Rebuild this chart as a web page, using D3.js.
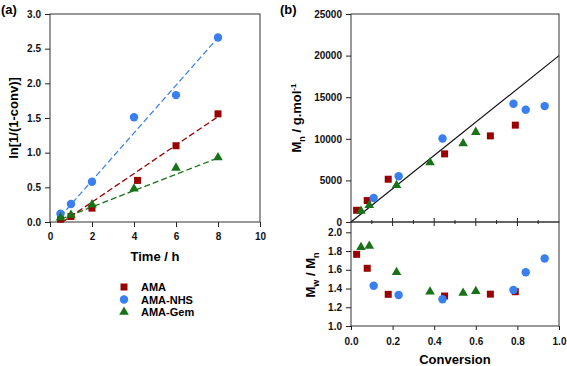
<!DOCTYPE html>
<html>
<head>
<meta charset="utf-8">
<script src="https://cdn.jsdelivr.net/npm/d3@7"></script>
<style>
  body { margin: 0; background: #fff; }
  svg text { font-family: "Liberation Sans", Arial, sans-serif; font-weight: bold; }
</style>
</head>
<body>
<svg id="chart" width="567" height="366"></svg>
<script>
const svg = d3.select("#chart");

// panel (a) kinetics
const timeAMA = [0.5, 1, 2, 4.17, 6, 8];
const lnAMA = [0.04, 0.08, 0.2, 0.6, 1.1, 1.56];
const timeNHS = [0.5, 1, 2, 4, 6, 8];
const lnNHS = [0.12, 0.26, 0.58, 1.51, 1.83, 2.66];
const timeGem = [0.5, 1, 2, 4, 6, 8];
const lnGem = [0.06, 0.1, 0.25, 0.48, 0.78, 0.93];

// fitted lines, [x, y] end points
const fitAMA = [[0.6, 0.0], [8.05, 1.53]];
const fitNHS = [[0.5, 0.08], [8.0, 2.66]];
const fitGem = [[0.5, 0.04], [8.05, 0.93]];

// panel (b) Mn and dispersity vs conversion
const convAMA = [0.027, 0.078, 0.179, 0.45, 0.67, 0.79];
const mnAMA = [1410, 2580, 5140, 8190, 10350, 11640];
const dispAMA = [1.765, 1.616, 1.338, 1.32, 1.34, 1.366];

const convNHS = [0.109, 0.229, 0.44, 0.781, 0.84, 0.931];
const mnNHS = [2890, 5500, 10040, 14210, 13490, 13930];
const dispNHS = [1.43, 1.33, 1.285, 1.384, 1.573, 1.72];

const convGem = [0.048, 0.088, 0.219, 0.38, 0.539, 0.6];
const mnGem = [1325, 2010, 4420, 7150, 9440, 10800];
const dispGem = [1.84, 1.854, 1.573, 1.365, 1.352, 1.37];

const theoryLine = [[0, 0], [1, 20000]];

const seriesNames = ["AMA", "AMA-NHS", "AMA-Gem"];
const colors = { "AMA": "#990000", "AMA-NHS": "#3a7ff0", "AMA-Gem": "#187318" };
const shapes = { "AMA": d3.symbolSquare, "AMA-NHS": d3.symbolCircle, "AMA-Gem": d3.symbolTriangle };
const sizes = { "AMA": 49, "AMA-NHS": 56, "AMA-Gem": 40 };

const xA = d3.scaleLinear([0, 10], [50, 260]);
const yA = d3.scaleLinear([0, 3], [222, 14]);
const xB = d3.scaleLinear([0, 1], [351, 559]);
const yB = d3.scaleLinear([0, 25000], [222, 14]);
const yC = d3.scaleLinear([1, 2.11], [326, 222]);

function zip(xs, ys) { return xs.map((x, i) => [x, ys[i]]); }

function drawAxis(g, axis, minorAxis) {
  const a = svg.append("g").attr("transform", g);
  a.call(minorAxis);
  a.call(axis);
  a.selectAll(".domain").remove();
  a.selectAll("line").attr("stroke", "#222").attr("stroke-width", 1);
  a.selectAll("text").attr("font-size", 10).attr("fill", "#111");
  return a;
}

function frame(x0, x1, y0, y1) {
  svg.append("rect").attr("x", x0).attr("y", y0)
    .attr("width", x1 - x0).attr("height", y1 - y0)
    .attr("fill", "none").attr("stroke", "#333").attr("stroke-width", 1);
}

function points(xs, ys, name, sx, sy) {
  svg.append("g").selectAll("path")
    .data(zip(xs, ys)).join("path")
    .attr("transform", d => `translate(${sx(d[0])},${sy(d[1])})`)
    .attr("d", d3.symbol(shapes[name], sizes[name]))
    .attr("fill", colors[name]);
}

// ---------- panel (a) ----------
frame(50, 260, 14, 222);

drawAxis("translate(0,222)",
  d3.axisBottom(xA).tickValues([0, 2, 4, 6, 8, 10]).tickSize(5).tickPadding(6),
  d3.axisBottom(xA).tickValues([1, 3, 5, 7, 9]).tickSize(3).tickFormat(""));
drawAxis("translate(50,0)",
  d3.axisLeft(yA).tickValues([0, 0.5, 1, 1.5, 2, 2.5, 3]).tickFormat(d3.format(".1f")).tickSize(5).tickPadding(4),
  d3.axisLeft(yA).tickValues([0.25, 0.75, 1.25, 1.75, 2.25, 2.75]).tickSize(3).tickFormat(""));

const line = d3.line();
[[fitAMA, "AMA"], [fitNHS, "AMA-NHS"], [fitGem, "AMA-Gem"]].forEach(([f, n]) => {
  svg.append("path")
    .attr("d", line(f.map(d => [xA(d[0]), yA(d[1])])))
    .attr("stroke", colors[n]).attr("stroke-width", 1.3)
    .attr("stroke-dasharray", "6,3").attr("fill", "none");
});

points(timeAMA, lnAMA, "AMA", xA, yA);
points(timeNHS, lnNHS, "AMA-NHS", xA, yA);
points(timeGem, lnGem, "AMA-Gem", xA, yA);

svg.append("text").attr("x", 155).attr("y", 261).attr("text-anchor", "middle")
  .attr("font-size", 13).text("Time / h");
svg.append("text").attr("transform", "translate(18,118) rotate(-90)")
  .attr("text-anchor", "middle").attr("font-size", 13).text("ln[1/(1-conv)]");
svg.append("text").attr("x", 1).attr("y", 14).attr("font-size", 13).text("(a)");

// legend
seriesNames.forEach((n, i) => {
  const y = 287 + i * 12.5;
  svg.append("path").attr("transform", `translate(124,${y})`)
    .attr("d", d3.symbol(shapes[n], sizes[n])).attr("fill", colors[n]);
  svg.append("text").attr("x", 141).attr("y", y + 4).attr("font-size", 11).text(n);
});

// ---------- panel (b) upper ----------
frame(351, 559, 14, 222);
drawAxis("translate(351,0)",
  d3.axisLeft(yB).tickValues([0, 5000, 10000, 15000, 20000, 25000]).tickFormat(d3.format("d")).tickSize(5).tickPadding(4),
  d3.axisLeft(yB).tickValues([2500, 7500, 12500, 17500, 22500]).tickSize(3).tickFormat(""));
// shared axis ticks, crossing both sides
const mid = svg.append("g");
[0.2, 0.4, 0.6, 0.8].forEach(v => {
  mid.append("line").attr("x1", xB(v)).attr("x2", xB(v)).attr("y1", 218).attr("y2", 226)
    .attr("stroke", "#222");
});
[0.1, 0.3, 0.5, 0.7, 0.9].forEach(v => {
  mid.append("line").attr("x1", xB(v)).attr("x2", xB(v)).attr("y1", 220).attr("y2", 224)
    .attr("stroke", "#222");
});

svg.append("path")
  .attr("d", line(theoryLine.map(d => [xB(d[0]), yB(d[1])])))
  .attr("stroke", "#111").attr("stroke-width", 1.2).attr("fill", "none");

points(convAMA, mnAMA, "AMA", xB, yB);
points(convNHS, mnNHS, "AMA-NHS", xB, yB);
points(convGem, mnGem, "AMA-Gem", xB, yB);

const mnLabel = svg.append("text").attr("transform", "translate(301,118) rotate(-90)")
  .attr("text-anchor", "middle").attr("font-size", 13);
mnLabel.append("tspan").text("M");
mnLabel.append("tspan").attr("font-size", 9).attr("dy", 4).text("n");
mnLabel.append("tspan").attr("dy", -4).text(" / g.mol");
mnLabel.append("tspan").attr("font-size", 8).attr("dy", -5).text("-1");
svg.append("text").attr("x", 280).attr("y", 14).attr("font-size", 13).text("(b)");

// ---------- panel (b) lower ----------
frame(351, 559, 222, 326);
drawAxis("translate(0,326)",
  d3.axisBottom(xB).tickValues([0, 0.2, 0.4, 0.6, 0.8, 1]).tickFormat(d3.format(".1f")).tickSize(4).tickPadding(8),
  d3.axisBottom(xB).tickValues([0.1, 0.3, 0.5, 0.7, 0.9]).tickSize(3).tickFormat(""));
drawAxis("translate(351,0)",
  d3.axisLeft(yC).tickValues([1, 1.2, 1.4, 1.6, 1.8, 2]).tickFormat(d3.format(".1f")).tickSize(5).tickPadding(4),
  d3.axisLeft(yC).tickValues([1.1, 1.3, 1.5, 1.7, 1.9]).tickSize(3).tickFormat(""));

points(convAMA, dispAMA, "AMA", xB, yC);
points(convNHS, dispNHS, "AMA-NHS", xB, yC);
points(convGem, dispGem, "AMA-Gem", xB, yC);

const dLabel = svg.append("text").attr("transform", "translate(315,275) rotate(-90)")
  .attr("text-anchor", "middle").attr("font-size", 13);
dLabel.append("tspan").text("M");
dLabel.append("tspan").attr("font-size", 9).attr("dy", 4).text("w");
dLabel.append("tspan").attr("dy", -4).text(" / M");
dLabel.append("tspan").attr("font-size", 9).attr("dy", 4).text("n");

svg.append("text").attr("x", 455).attr("y", 364).attr("text-anchor", "middle")
  .attr("font-size", 13).text("Conversion");
</script>
</body>
</html>
